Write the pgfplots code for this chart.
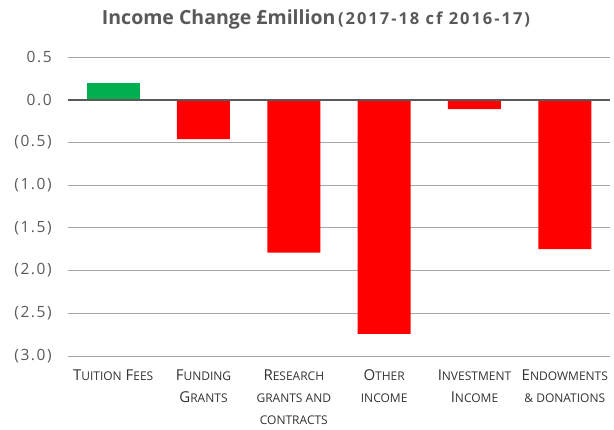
\documentclass[border=0pt]{standalone}
\usepackage{pgfplots}
\pgfplotsset{compat=1.18}
\usepackage{fontspec}
\setmainfont{Open Sans}
\newfontfamily\spaced[LetterSpace=10]{Open Sans}
\newfontfamily\subspaced[LetterSpace=12]{Open Sans}
\definecolor{tickgray}{HTML}{595959}
\definecolor{titlegray}{HTML}{595959}
\definecolor{gridgray}{HTML}{A6A6A6}
\definecolor{zerogray}{HTML}{595959}
\definecolor{barred}{HTML}{FF0000}
\definecolor{bargreen}{HTML}{00B050}
\definecolor{labelcol}{HTML}{333333}
\newcommand\s[1]{{\fontsize{12}{13}\selectfont\MakeUppercase{#1}}}
\begin{document}
\begin{tikzpicture}[x=1pt,y=1pt]
\path[use as bounding box] (0,0) rectangle (614,430);
\node[text=titlegray, anchor=base, inner sep=0pt] at (316,405)
  {{\bfseries\fontsize{19.5}{22}\selectfont Income Change £million} {\subspaced\bfseries\fontsize{16.5}{19}\selectfont (2017-18 cf 2016-17)}};
\begin{axis}[
  at={(68pt,74pt)}, anchor=south west,
  scale only axis, width=542pt, height=299pt,
  xmin=-0.5, xmax=5.5, ymin=-3, ymax=0.5,
  axis line style={draw=none},
  major tick length=0pt,
  ytick={-3,-2.5,-2,-1.5,-1,-0.5,0,0.5},
  yticklabels={(3.0),(2.5),(2.0),(1.5),(1.0),(0.5),0.0,0.5},
  yticklabel style={font=\spaced\fontsize{15.5}{17}\selectfont, text=tickgray, xshift=-12.8pt},
  ymajorgrids, grid style={draw=gridgray, line width=0.9pt},
  xtick={0,1,2,3,4,5},
  xticklabels={
    {T\s{uition} F\s{ees}},
    {F\s{unding}\\G\s{rants}},
    {R\s{esearch}\\\s{grants and}\\\s{contracts}},
    {O\s{ther}\\\s{income}},
    {I\s{nvestment}\\I\s{ncome}},
    {E\s{ndowments}\\\s{\& donations}}},
  xticklabel style={font=\fontsize{15}{22}\selectfont, text=labelcol, align=center, anchor=north, yshift=-10pt},
  ybar, bar width=53pt, bar shift=0pt,
  clip=false,
]
\addplot[fill=bargreen, draw=none] coordinates {(0,0.20)};
\addplot[fill=barred, draw=none] coordinates {(1,-0.46) (2,-1.79) (3,-2.74) (4,-0.11) (5,-1.75)};
\draw[zerogray, line width=1.9pt] (axis cs:-0.5,0) -- (axis cs:5.5,0);
\end{axis}
\end{tikzpicture}
\end{document}
